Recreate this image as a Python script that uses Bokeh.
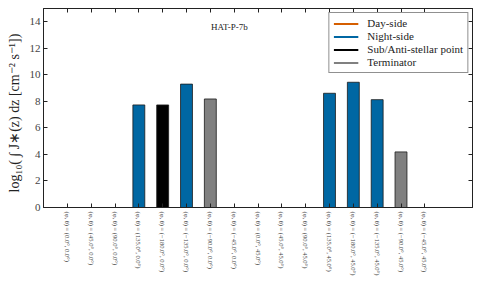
import math
from bokeh.plotting import figure
from bokeh.models import (FixedTicker, LinearAxis, Range1d, Legend, LegendItem,
                          Label, ColumnDataSource)
from bokeh.embed import file_html
from bokeh.resources import INLINE

# ---- data ----
positions = [
    "(φ, θ) = (0.0°, 0.0°)", "(φ, θ) = (45.0°, 0.0°)", "(φ, θ) = (90.0°, 0.0°)",
    "(φ, θ) = (135.0°, 0.0°)", "(φ, θ) = (−180.0°, 0.0°)", "(φ, θ) = (−135.0°, 0.0°)",
    "(φ, θ) = (−90.0°, 0.0°)", "(φ, θ) = (−45.0°, 0.0°)",
    "(φ, θ) = (0.0°, 45.0°)", "(φ, θ) = (45.0°, 45.0°)", "(φ, θ) = (90.0°, 45.0°)",
    "(φ, θ) = (135.0°, 45.0°)", "(φ, θ) = (−180.0°, 45.0°)", "(φ, θ) = (−135.0°, 45.0°)",
    "(φ, θ) = (−90.0°, 45.0°)", "(φ, θ) = (−45.0°, 45.0°)",
]
day_side = [0, 0, 0, 0, 0, 0, 0, 0, 0, 0, 0, 0, 0, 0, 0, 0]
night_side = [0, 0, 0, 7.73, 0, 9.3, 0, 0, 0, 0, 0, 8.61, 9.44, 8.13, 0, 0]
sub_anti_stellar = [0, 0, 0, 0, 7.73, 0, 0, 0, 0, 0, 0, 0, 0, 0, 0, 0]
terminator = [0, 0, 0, 0, 0, 0, 8.18, 0, 0, 0, 0, 0, 0, 0, 4.19, 0]
series_names = ["Day-side", "Night-side", "Sub/Anti-stellar point", "Terminator"]
series_values = [day_side, night_side, sub_anti_stellar, terminator]
series_colors = ["#d55e00", "#0067a3", "#000000", "#808080"]
y_ticks = [0, 2, 4, 6, 8, 10, 12, 14]
planet = "HAT-P-7b"

FONT = "Liberation Serif"
TXT = "#222222"
NAN = float("nan")

xs = list(range(len(positions)))

p = figure(output_backend="svg", toolbar_location=None,
           x_range=Range1d(-1, len(positions) + 1), y_range=Range1d(0, 15),
           frame_width=429, frame_height=199,
           min_border_left=43, min_border_top=8, min_border_right=2,
           min_border_bottom=0)
p.xgrid.visible = False
p.ygrid.visible = False
p.outline_line_color = "#222222"
p.outline_line_width = 1

for vals, col in zip(series_values, series_colors):
    src = ColumnDataSource(dict(x=[x for x, v in zip(xs, vals) if v > 0],
                                top=[v for v in vals if v > 0]))
    p.vbar(x="x", top="top", width=0.5, bottom=0, source=src,
           fill_color=col, line_color="#1a1a1a", line_width=0.8)

# legend proxies (lines with no visible points)
items = []
for name, col in zip(series_names, series_colors):
    r = p.line(x=[NAN], y=[NAN], line_color=col, line_width=2)
    items.append(LegendItem(label=name, renderers=[r]))
legend = Legend(items=items, location="top_right")
legend.label_text_font = FONT
legend.label_text_font_size = "11px"
legend.label_text_color = TXT
legend.border_line_color = "#222222"
legend.border_line_width = 1
legend.glyph_width = 25
legend.glyph_height = 11
legend.label_height = 11
legend.spacing = 1
legend.label_standoff = 9
legend.padding = 4
legend.margin = 4
legend.background_fill_alpha = 1
p.add_layout(legend, "center")

# bottom axis
xa = p.xaxis[0]
xa.ticker = FixedTicker(ticks=xs)
xa.major_label_overrides = {i: lab for i, lab in enumerate(positions)}
xa.major_label_orientation = -math.pi / 2
xa.major_label_text_font = FONT
xa.major_label_text_font_size = "6.5px"
xa.major_label_text_color = "#444444"
xa.major_tick_in = 4
xa.major_tick_out = 0
xa.minor_tick_line_color = None
xa.axis_line_color = "#222222"
xa.major_tick_line_color = "#222222"
xa.major_label_standoff = 4

ya = p.yaxis[0]
ya.ticker = FixedTicker(ticks=y_ticks)
ya.major_label_text_font = FONT
ya.major_label_text_font_size = "11px"
ya.major_label_text_color = "#444444"
ya.major_tick_in = 4
ya.major_tick_out = 0
ya.minor_tick_line_color = None
ya.axis_line_color = "#222222"
ya.major_tick_line_color = "#222222"
ya.major_label_standoff = 3
ya.axis_label = "log₁₀(  ∫ J∗(z) dz    [cm⁻² s⁻¹])"
ya.axis_label_text_font = FONT
ya.axis_label_text_font_size = "14px"
ya.axis_label_text_font_style = "normal"
ya.axis_label_text_color = TXT
ya.axis_label_standoff = 5

top_ax = LinearAxis(ticker=FixedTicker(ticks=xs), major_label_text_font_size="0px",
                    major_tick_in=4, major_tick_out=0, minor_tick_line_color=None,
                    major_label_standoff=0, axis_line_color="#222222",
                    major_tick_line_color="#222222")
top_ax.major_label_overrides = {i: "" for i in xs}
p.add_layout(top_ax, "above")
right_ax = LinearAxis(ticker=FixedTicker(ticks=y_ticks), major_label_text_font_size="0px",
                      major_tick_in=4, major_tick_out=0, minor_tick_line_color=None,
                      major_label_standoff=0, axis_line_color="#222222",
                      major_tick_line_color="#222222")
right_ax.major_label_overrides = {i: "" for i in y_ticks}
p.add_layout(right_ax, "right")

p.add_layout(Label(x=6.8, y=13.6, text=planet, text_align="center",
                   text_baseline="middle", text_font=FONT,
                   text_font_size="9px", text_color=TXT))

open("out.html", "w").write(file_html(p, INLINE))
